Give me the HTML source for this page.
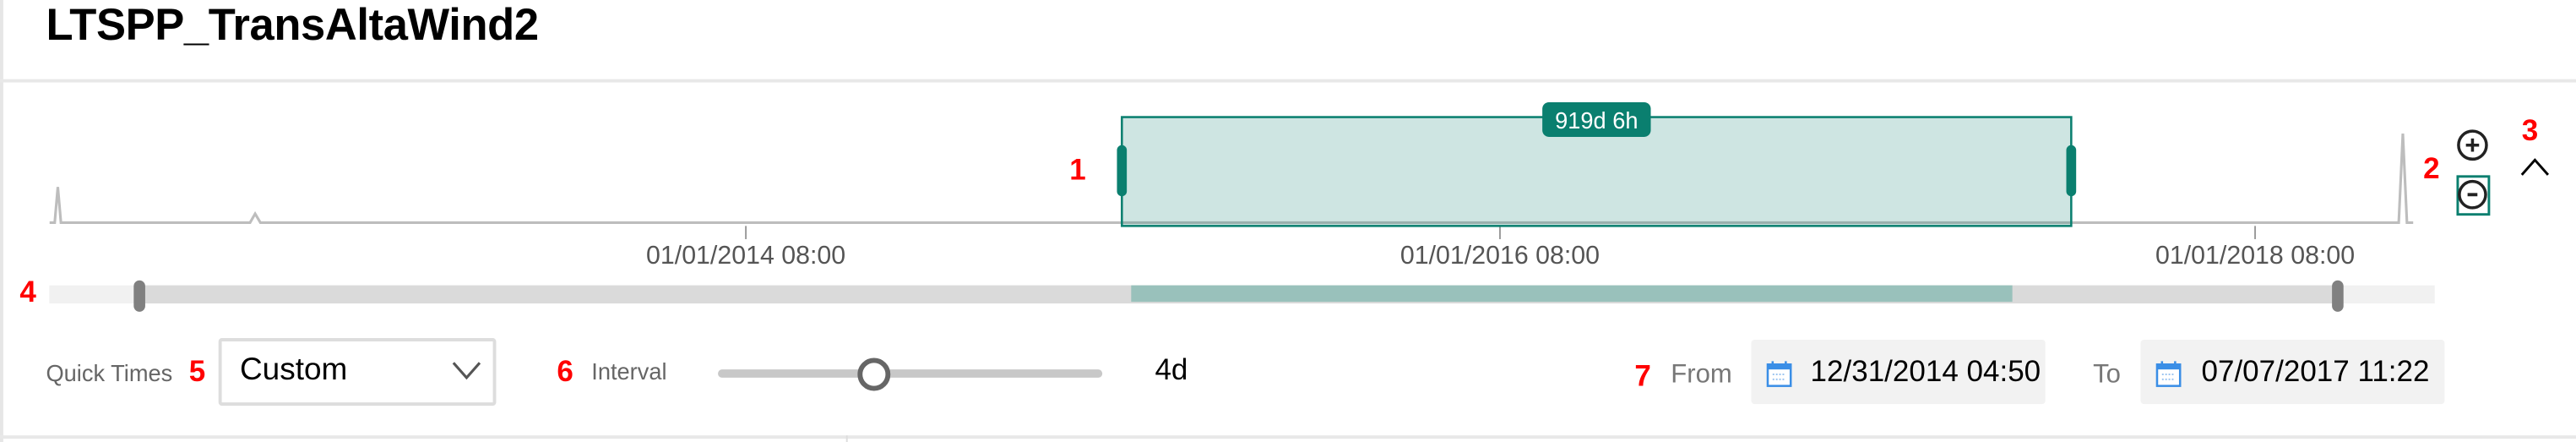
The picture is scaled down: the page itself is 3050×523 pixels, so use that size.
<!DOCTYPE html>
<html><head><meta charset="utf-8">
<style>
html,body{margin:0;padding:0;background:#fff;overflow:hidden;}
body{width:3050px;height:523px;}
#wrap{position:absolute;left:0;top:0;width:1568px;height:268px;transform:scale(1.94515,1.95149);transform-origin:0 0;font-family:"Liberation Sans",sans-serif;}
.abs{position:absolute;}
.red{color:#f00;font-weight:bold;font-size:18px;}
.lbl{color:#666;font-size:14px;}
.box{background:#f2f2f2;border-radius:2px;}
</style></head>
<body>
<div id="wrap">
  <div class="abs" style="left:0;top:0;width:2px;height:268px;background:#e6e6e6"></div>
  <div class="abs" style="left:28px;top:0px;font-size:27px;font-weight:bold;color:#000;letter-spacing:-0.2px">LTSPP_TransAltaWind2</div>
  <div class="abs" style="left:0;top:48px;width:1568px;height:2px;background:#e8e8e8"></div>
  <div class="abs" style="left:0;top:264px;width:1568px;height:2px;background:#e8e8e8"></div>
  <div class="abs" style="left:515px;top:264px;width:1px;height:4px;background:#ddd"></div>

  <svg class="abs" style="left:0;top:0" width="1568" height="268">
    <g id="ticks"></g>
    <path id="series" fill="none" stroke="#bdbdbd" stroke-width="1.6"></path>
    <g id="sel"></g>
    <g id="scrub"></g>
  </svg>

  <div class="abs red" style="left:651px;top:93px">1</div>
  <div class="abs red" style="left:1475px;top:92px">2</div>
  <div class="abs red" style="left:1535px;top:69px">3</div>
  <div class="abs red" style="left:12px;top:167px">4</div>

  <svg class="abs" style="left:1494px;top:76px" width="24" height="56">
    <g><circle cx="11" cy="12" r="8.5" fill="#fff" stroke="#222" stroke-width="1.8"/><path d="M7 12h8M11 8v8" stroke="#222" stroke-width="1.8"/></g>
    <g><rect x="2" y="31" width="19" height="23" fill="none" stroke="#0a7f6f" stroke-width="1.5"/><circle cx="11" cy="42" r="8" fill="#fff" stroke="#222" stroke-width="1.8"/><path d="M8 42h6" stroke="#222" stroke-width="2"/></g>
  </svg>
  <svg class="abs" style="left:1533px;top:94px" width="20" height="14"><path d="M2 12L10 3L18 12" fill="none" stroke="#000" stroke-width="1.5"/></svg>

  <div class="abs lbl" style="left:28px;top:218px">Quick Times</div>
  <div class="abs red" style="left:115px;top:215px">5</div>
  <div class="abs" style="left:133px;top:205px;width:165px;height:37px;border:2px solid #ddd;border-radius:2px">
    <div class="abs" style="left:11px;top:7px;font-size:19px;color:#000">Custom</div>
    <svg class="abs" style="left:140px;top:12px" width="18" height="12"><path d="M1 1L9 10L17 1" fill="none" stroke="#555" stroke-width="1.6"/></svg>
  </div>
  <div class="abs red" style="left:339px;top:215px">6</div>
  <div class="abs lbl" style="left:360px;top:217px">Interval</div>
  <div class="abs" style="left:437px;top:224px;width:234px;height:5px;background:#c8c8c8;border-radius:3px"></div>
  <div class="abs" style="left:522px;top:217px;width:14px;height:14px;border:3px solid #666;border-radius:50%;background:#fff"></div>
  <div class="abs" style="left:703px;top:214px;font-size:18px;color:#000">4d</div>

  <div class="abs red" style="left:995px;top:218px">7</div>
  <div class="abs" style="left:1017px;top:219px;font-size:16px;color:#777">From</div>
  <div class="abs box" style="left:1066px;top:206px;width:179px;height:39px">
    <svg class="abs" style="left:9px;top:12px" width="16" height="17"><rect x="1" y="3" width="14" height="13" fill="#fff" stroke="#3a8ee6" stroke-width="1.3"/><rect x="1" y="3" width="14" height="3" fill="#3a8ee6"/><path d="M4 1v4M12 1v4" stroke="#3a8ee6" stroke-width="1.3"/><path d="M4 9h8M4 12h8" stroke="#9cc4f0" stroke-width="1" stroke-dasharray="1 1"/></svg>
    <div class="abs" style="left:36px;top:9px;font-size:18px;color:#000">12/31/2014 04:50</div>
  </div>
  <div class="abs" style="left:1274px;top:219px;font-size:16px;color:#777">To</div>
  <div class="abs box" style="left:1303px;top:206px;width:185px;height:39px">
    <svg class="abs" style="left:9px;top:12px" width="16" height="17"><rect x="1" y="3" width="14" height="13" fill="#fff" stroke="#3a8ee6" stroke-width="1.3"/><rect x="1" y="3" width="14" height="3" fill="#3a8ee6"/><path d="M4 1v4M12 1v4" stroke="#3a8ee6" stroke-width="1.3"/><path d="M4 9h8M4 12h8" stroke="#9cc4f0" stroke-width="1" stroke-dasharray="1 1"/></svg>
    <div class="abs" style="left:37px;top:9px;font-size:18px;color:#000">07/07/2017 11:22</div>
  </div>
</div>
<script>
var seriesDates = ["2012-02-27","2012-03-03","2012-03-06","2012-03-09","2012-09-08","2012-09-13","2012-09-18","2018-05-20","2018-05-24","2018-05-28","2018-06-03"];
var seriesValues = [0,0,40,0,0,10,0,0,100,0,0];
var tickDates = ["2014-01-01","2016-01-01","2018-01-01"];
var tickLabels = ["01/01/2014 08:00","01/01/2016 08:00","01/01/2018 08:00"];
var selectionRange = ["2014-12-31","2017-07-07"];
var selectionLabel = ["919d 6h"];
var scrubWindow = ["2012-05-24","2018-03-22"];
var scrubSelection = ["2015-01-09","2017-05-11"];

var NS="http://www.w3.org/2000/svg";
function days(s){return (Date.parse(s)-Date.parse("2014-01-01"))/86400000;}
function x(s){return 454 + days(s)*0.6288;}
function y(v){return 135 - v*0.54;}
function sx(s){return 454 + days(s)*0.6288;}
function mk(tag,attrs,parent){var e=document.createElementNS(NS,tag);for(var k in attrs)e.setAttribute(k,attrs[k]);parent.appendChild(e);return e;}

var d="";
for(var i=0;i<seriesDates.length;i++){d+=(i?"L":"M")+x(seriesDates[i]).toFixed(1)+" "+y(seriesValues[i]).toFixed(1);}
document.getElementById("series").setAttribute("d",d);

var tg=document.getElementById("ticks");
for(var i=0;i<tickDates.length;i++){
  var tx=x(tickDates[i]);
  var l=mk("line",{x1:tx,x2:tx,y1:137,y2:145,stroke:"#999","stroke-width":1},tg);
  
  
  var t=mk("text",{x:tx,y:160,"text-anchor":"middle","font-size":"15.6","fill":"#555","font-family":"Liberation Sans, sans-serif"},tg);
  t.textContent=tickLabels[i];
  
  
}

var sg=document.getElementById("sel");
var x0=x(selectionRange[0]),x1=x(selectionRange[1]);
var r=mk("rect",{x:x0,y:71,width:x1-x0,height:66,fill:"#0a7f6f","fill-opacity":"0.2",stroke:"#0a7f6f","stroke-width":1.3},sg);


var h1=mk("rect",{x:x0-3,y:88,width:6,height:31,rx:3,fill:"#0a7f6f"},sg);


var h2=mk("rect",{x:x1-3,y:88,width:6,height:31,rx:3,fill:"#0a7f6f"},sg);


var cx=(x0+x1)/2;
var pill=mk("rect",{x:cx-33,y:62,width:66,height:21,rx:4,fill:"#0a7f6f"},sg);


var pt=mk("text",{x:cx,y:78,"text-anchor":"middle","font-size":"14","fill":"#fff","font-family":"Liberation Sans, sans-serif"},sg);
pt.textContent=selectionLabel[0];



var cg=document.getElementById("scrub");
var bg=mk("rect",{x:30,y:173,width:1452,height:11,fill:"#f1f1f1"},cg);


var w0=sx(scrubWindow[0]),w1=sx(scrubWindow[1]);
var win=mk("rect",{x:w0,y:173,width:w1-w0,height:11,fill:"#dadada"},cg);


var s0=sx(scrubSelection[0]),s1=sx(scrubSelection[1]);
var ss=mk("rect",{x:s0,y:173,width:s1-s0,height:10,fill:"#99c1bb"},cg);


var g1=mk("rect",{x:w0-3.5,y:170,width:7,height:19,rx:3.5,fill:"#808080"},cg);


var g2=mk("rect",{x:w1-3.5,y:170,width:7,height:19,rx:3.5,fill:"#808080"},cg);


</script>
</body></html>
